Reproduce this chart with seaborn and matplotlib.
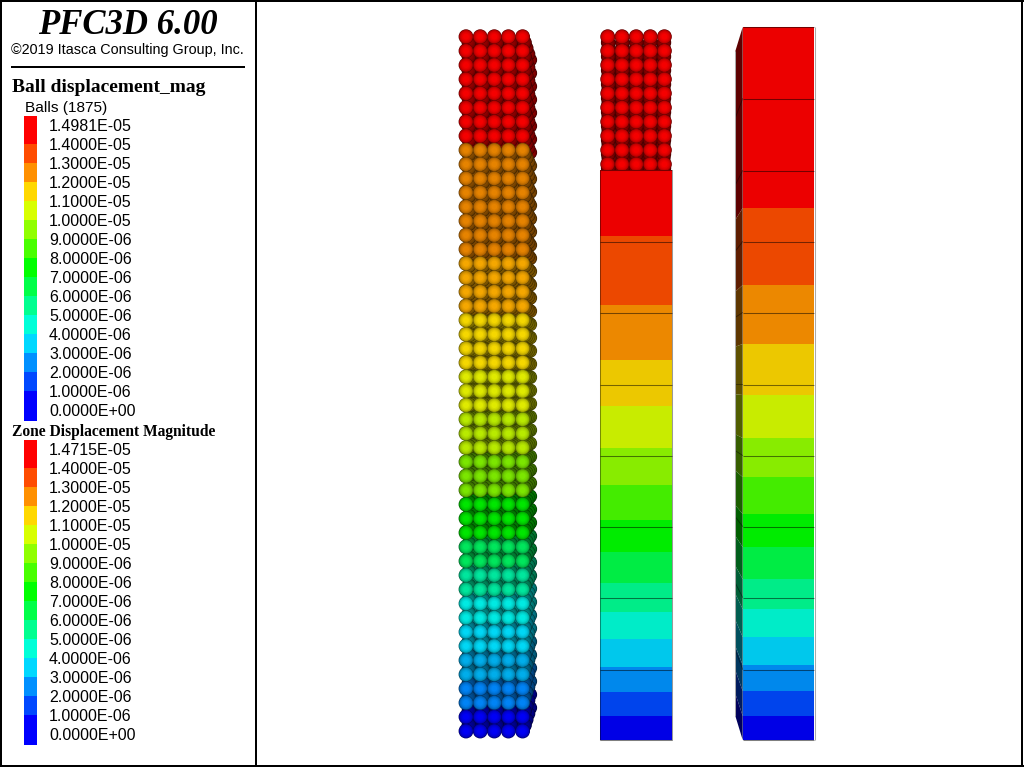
import numpy as np
import pandas as pd
import matplotlib
matplotlib.use("Agg")
import matplotlib.pyplot as plt
import matplotlib.colors as mcolors
import seaborn as sb

# legend data
legend_colors = ["#ff0000", "#ff4c00", "#ff9000", "#ffd800", "#d8ff00", "#90ff00", "#48ff00", "#00ff00",
                 "#00ff48", "#00ff90", "#00ffd8", "#00d8ff", "#0090ff", "#0048ff", "#0000ff"]
ball_labels = ["1.4981E-05", "1.4000E-05", "1.3000E-05", "1.2000E-05", "1.1000E-05", "1.0000E-05",
               "9.0000E-06", "8.0000E-06", "7.0000E-06", "6.0000E-06", "5.0000E-06", "4.0000E-06",
               "3.0000E-06", "2.0000E-06", "1.0000E-06", "0.0000E+00"]
zone_labels = ["1.4715E-05"] + ball_labels[1:]
legend_edges = [0, 28, 47, 66, 85, 104, 123, 142, 161, 180, 199, 218, 237, 256, 275, 305]

# ball colours, top row to bottom row
ball_group_colors = ["#ff0000", "#f08800", "#ffae00", "#ffe000", "#e8f400", "#c0f400", "#80f000", "#00f000",
                     "#00f060", "#00f0a4", "#00f4ec", "#00e0ff", "#00b4f4", "#0088ff", "#0000ff"]
ball_group_rows = [8, 8, 4, 4, 3, 3, 3, 3, 2, 2, 2, 2, 2, 2, 2]
clipped_group_rows = [10]

# zone colours and band limits, top to bottom
zone_colors = ["#ec0000", "#ec4800", "#ec8800", "#ecc800", "#c8ec00", "#88ec00", "#44ec00", "#00ec00",
               "#00ec44", "#00ec88", "#00ecc8", "#00c8ec", "#0088ec", "#0044ec", "#0000e6"]
clip_edges = [170, 236, 305, 360, 406, 448, 485, 520, 552, 583, 612, 639, 667, 692, 716, 740]
full_edges = [27, 208, 285, 344, 395, 438, 477, 514, 547, 579, 609, 637, 665, 691, 716, 740]
clip_lines = [241.5, 312.5, 384.5, 455.5, 526.5, 597.5, 669.5]
full_lines = [98.5, 170.5] + clip_lines

# layout in pixels
row_top, row_step = 36.7, 14.17
left_cols = [466, 480.2, 494.3, 508.4, 522.6]
mid_cols = [607.7, 622, 636.2, 650.3, 664.4]
view_x, view_y = 636.0, 384.0
depth_scale = [0.933, 0.95, 0.967, 0.983, 1.0]
radii = [1.0, 0.92, 0.84, 0.72, 0.58, 0.4]
ball_size = 114


def darker(color, factor):
    return tuple(np.array(mcolors.to_rgb(color)) * factor)


def ball_table(columns, group_rows):
    row_colors = [c for c, n in zip(ball_group_colors, group_rows) for _ in range(n)]
    rows = []
    for r, color in enumerate(row_colors):
        for x in columns:
            rows.append((x, row_top + r * row_step, color))
    return pd.DataFrame(rows, columns=["x", "y", "color"])


def draw_balls(ax, table):
    for s in depth_scale:
        layer = table.assign(x=view_x + (table["x"] - view_x) * s, y=view_y + (table["y"] - view_y) * s)
        dim = 1.0 if s == 1.0 else 0.6
        for r in radii:
            # rough sphere shading, dark at the rim
            factor = 0.4 + 0.6 * (1 - r * r) ** 0.4
            pal = {c: darker(c, factor * dim) for c in ball_group_colors}
            sb.scatterplot(data=layer, x="x", y="y", hue="color", palette=pal, s=ball_size * r * r * s * s,
                           linewidth=0, legend=False, ax=ax)


def draw_zone(ax, x0, x1, edges, lines):
    for i, color in enumerate(zone_colors):
        ax.bar(x0, edges[i + 1] - edges[i], width=x1 - x0, bottom=edges[i], align="edge", color=color, linewidth=0)
    ax.hlines([edges[0], edges[-1]] + lines, x0, x1, color="black", alpha=0.5, lw=0.75)


sb.set_theme(style="white")
fig = plt.figure(figsize=(10.24, 7.68), dpi=100)
ax = fig.add_axes([0, 0, 1, 1])
ax.set_xlim(0, 1024)
ax.set_ylim(768, 0)
ax.axis("off")

# balls
draw_balls(ax, ball_table(left_cols, ball_group_rows))
draw_balls(ax, ball_table(mid_cols, clipped_group_rows))

# clipped zones
draw_zone(ax, 600, 672, clip_edges, clip_lines)
ax.vlines([600, 672], clip_edges[0], clip_edges[-1], color="black", alpha=0.4, lw=0.75)

# full zones with the side face in perspective
front_x, far_x = 742.7, 735.4
back = lambda y: view_y + (y - view_y) * 0.933
for i, color in enumerate(zone_colors):
    t, b = full_edges[i], full_edges[i + 1]
    ax.fill([far_x, front_x, front_x, far_x], [back(t), t, b, back(b)], color=darker(color, 0.4), lw=0)
for y in full_lines:
    ax.plot([far_x, front_x], [back(y), y], color="black", alpha=0.45, lw=0.6)
ax.vlines(far_x, back(full_edges[0]), back(full_edges[-1]), color="#a9a9a9", lw=0.75)
draw_zone(ax, front_x, 814, full_edges, full_lines)
ax.vlines(814.5, full_edges[0], full_edges[-1], color="#a9a9a9", lw=0.75)

# colour legends
for top, labels in [(116, ball_labels), (440, zone_labels)]:
    for i, color in enumerate(legend_colors):
        ax.bar(24, legend_edges[i + 1] - legend_edges[i], width=13, bottom=top + legend_edges[i],
               align="edge", color=color, linewidth=0)
    for i, lab in enumerate(labels):
        ax.text(49, top + 10.5 + i * 19, lab, family="Liberation Sans", fontsize=11.5, color="black", va="center")

# header text
ax.text(128, 34.5, "PFC3D 6.00", family="Liberation Serif", style="italic", weight="bold", fontsize=25,
        color="black", ha="center", va="baseline")
ax.text(11, 54, "\u00a92019 Itasca Consulting Group, Inc.", family="Liberation Sans", fontsize=10.4,
        color="black", va="baseline")
ax.hlines(67, 11, 245, color="black", lw=1.44)
ax.text(12, 92, "Ball displacement_mag", family="Liberation Serif", weight="bold", fontsize=14,
        color="black", va="baseline")
ax.text(25, 112, "Balls (1875)", family="Liberation Sans", fontsize=11.1, color="black", va="baseline")
ax.text(12, 436, "Zone Displacement Magnitude", family="Liberation Serif", weight="bold", fontsize=11.2,
        color="black", va="baseline")

# window frame
ax.vlines([1, 256, 1022], 0, 767, color="black", lw=1.44)
ax.hlines([1, 766], 0, 1024, color="black", lw=1.44)

fig.savefig("out.png", dpi=100)
